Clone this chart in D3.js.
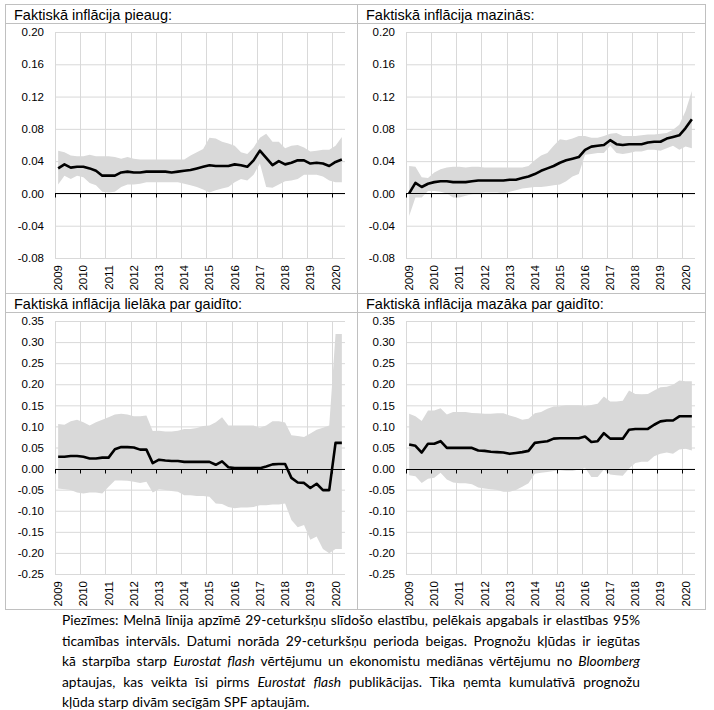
<!DOCTYPE html>
<html>
<head>
<meta charset="utf-8">
<script src="https://cdnjs.cloudflare.com/ajax/libs/d3/7.8.5/d3.min.js"></script>
<style>
  body { margin: 0; background: #fff; }
  #wrap { position: relative; width: 714px; height: 710px; }
  svg { position: absolute; left: 0; top: 0; }
  #notes {
    position: absolute; left: 62px; top: 610px; width: 578px;
    font-family: Lato, "Open Sans", sans-serif; font-size: 13.8px;
    line-height: 20.5px; color: #000;
  }
  #notes span { display: block; text-align: justify; text-align-last: justify; white-space: nowrap; }
  #notes span.last { text-align-last: left; }
</style>
</head>
<body>
<div id="wrap">
<svg id="chart" width="714" height="610"></svg>
<div id="notes">
  <span>Piezīmes: Melnā līnija apzīmē 29-ceturkšņu slīdošo elastību, pelēkais apgabals ir elastības 95%</span>
  <span>ticamības intervāls. Datumi norāda 29-ceturkšņu perioda beigas. Prognožu kļūdas ir iegūtas</span>
  <span>kā starpība starp <i>Eurostat flash</i> vērtējumu un ekonomistu mediānas vērtējumu no <i>Bloomberg</i></span>
  <span>aptaujas, kas veikta īsi pirms <i>Eurostat flash</i> publikācijas. Tika ņemta kumulatīvā prognožu</span>
  <span class="last">kļūda starp divām secīgām SPF aptaujām.</span>
</div>
</div>
<script>
// tick labels
var years = ["2009","2010","2011","2012","2013","2014","2015","2016","2017","2018","2019","2020"];
// quarters 2009Q1 .. 2020Q2
var quarters = [];
years.forEach(function(y){ ["Q1","Q2","Q3","Q4"].forEach(function(q){ quarters.push(y + q); }); });
quarters = quarters.slice(0, 46);

var titles = ["Faktiskā inflācija pieaug:", "Faktiskā inflācija mazinās:",
              "Faktiskā inflācija lielāka par gaidīto:", "Faktiskā inflācija mazāka par gaidīto:"];

var ticksTop = [0.20, 0.16, 0.12, 0.08, 0.04, 0.00, -0.04, -0.08];
var ticksBottom = [0.35, 0.30, 0.25, 0.20, 0.15, 0.10, 0.05, 0.00, -0.05, -0.10, -0.15, -0.20, -0.25];

// panel 1: pieaug
var riseLine = [0.031,0.036,0.032,0.033,0.033,0.031,0.028,0.022,0.022,0.022,0.026,0.027,
  0.026,0.026,0.027,0.027,0.027,0.027,0.026,0.027,0.028,0.029,0.031,0.033,
  0.035,0.034,0.034,0.034,0.036,0.035,0.033,0.041,0.053,0.044,0.035,0.040,
  0.036,0.038,0.041,0.041,0.037,0.038,0.037,0.034,0.039,0.042];
var riseHigh = [0.053,0.051,0.047,0.046,0.046,0.048,0.046,0.046,0.046,0.045,0.043,0.045,
  0.043,0.042,0.042,0.042,0.042,0.042,0.042,0.042,0.042,0.047,0.051,0.055,
  0.069,0.068,0.064,0.062,0.059,0.051,0.049,0.057,0.069,0.074,0.064,0.064,
  0.056,0.059,0.060,0.057,0.052,0.053,0.054,0.054,0.059,0.070];
var riseLow = [0.011,0.022,0.018,0.022,0.020,0.013,0.010,0.002,0.001,0.002,0.008,0.011,
  0.011,0.012,0.014,0.014,0.014,0.014,0.014,0.014,0.012,0.010,0.008,0.005,
  0.001,0.004,0.006,0.008,0.014,0.018,0.016,0.023,0.037,0.008,0.007,0.011,
  0.015,0.016,0.018,0.023,0.023,0.023,0.021,0.016,0.014,0.014];

// panel 2: mazinās
var fallLine = [0.000,0.013,0.008,0.012,0.014,0.015,0.015,0.014,0.014,0.014,0.015,0.016,
  0.016,0.016,0.016,0.016,0.017,0.017,0.019,0.021,0.024,0.028,0.031,0.034,
  0.038,0.041,0.043,0.045,0.054,0.058,0.059,0.060,0.066,0.061,0.060,0.061,
  0.061,0.061,0.063,0.064,0.064,0.068,0.070,0.072,0.081,0.092];
var fallHigh = [0.034,0.033,0.020,0.019,0.026,0.030,0.032,0.033,0.033,0.032,0.033,0.033,
  0.032,0.032,0.032,0.032,0.032,0.032,0.032,0.034,0.041,0.047,0.050,0.059,
  0.067,0.066,0.068,0.071,0.071,0.069,0.069,0.071,0.074,0.075,0.071,0.071,
  0.071,0.072,0.073,0.073,0.074,0.075,0.079,0.085,0.102,0.127];
var fallLow = [-0.028,-0.005,-0.005,0.003,0.003,0.002,0.000,-0.005,-0.005,-0.003,-0.001,0.000,
  0.001,0.001,0.001,0.000,0.002,0.004,0.006,0.007,0.008,0.008,0.009,0.010,
  0.011,0.015,0.021,0.024,0.048,0.049,0.050,0.050,0.059,0.050,0.049,0.050,
  0.052,0.052,0.054,0.054,0.053,0.056,0.059,0.054,0.058,0.056];

// panel 3: lielāka par gaidīto
var aboveLine = [0.028,0.028,0.030,0.030,0.028,0.024,0.024,0.026,0.026,0.046,0.051,0.051,
  0.050,0.045,0.045,0.013,0.021,0.019,0.018,0.018,0.016,0.016,0.016,0.016,
  0.016,0.009,0.017,0.003,0.001,0.001,0.001,0.001,0.001,0.005,0.010,0.011,
  0.011,-0.022,-0.033,-0.034,-0.046,-0.036,-0.051,-0.051,0.061,0.061];
var aboveHigh = [0.106,0.104,0.112,0.116,0.110,0.102,0.110,0.116,0.122,0.128,0.130,0.128,
  0.124,0.124,0.126,0.089,0.090,0.088,0.088,0.090,0.094,0.094,0.096,0.101,
  0.102,0.110,0.122,0.102,0.102,0.102,0.102,0.102,0.097,0.102,0.112,0.112,
  0.109,0.079,0.077,0.075,0.083,0.092,0.097,0.102,0.319,0.319];
var aboveLow = [-0.047,-0.049,-0.051,-0.057,-0.059,-0.057,-0.057,-0.059,-0.043,-0.028,-0.028,-0.029,
  -0.031,-0.034,-0.031,-0.057,-0.049,-0.051,-0.053,-0.055,-0.063,-0.063,-0.065,-0.065,
  -0.067,-0.083,-0.084,-0.091,-0.094,-0.092,-0.092,-0.091,-0.087,-0.087,-0.085,-0.085,
  -0.083,-0.122,-0.139,-0.134,-0.169,-0.161,-0.191,-0.201,-0.191,-0.191];

// panel 4: mazāka par gaidīto
var belowLine = [0.057,0.054,0.038,0.059,0.059,0.065,0.049,0.049,0.049,0.049,0.049,0.043,
  0.042,0.040,0.039,0.038,0.035,0.037,0.039,0.042,0.061,0.063,0.065,0.071,
  0.072,0.072,0.072,0.072,0.076,0.063,0.065,0.084,0.071,0.071,0.071,0.092,
  0.094,0.094,0.094,0.104,0.112,0.114,0.114,0.124,0.124,0.124];
var belowHigh = [0.130,0.124,0.113,0.138,0.138,0.143,0.128,0.134,0.134,0.134,0.132,0.131,
  0.130,0.130,0.131,0.131,0.126,0.122,0.116,0.118,0.131,0.134,0.142,0.147,
  0.148,0.150,0.150,0.150,0.148,0.151,0.154,0.171,0.159,0.159,0.161,0.185,
  0.177,0.176,0.177,0.185,0.193,0.194,0.199,0.209,0.207,0.207];
var belowLow = [-0.016,-0.018,-0.034,-0.024,-0.022,-0.010,-0.026,-0.033,-0.035,-0.035,-0.037,-0.045,
  -0.047,-0.049,-0.051,-0.055,-0.055,-0.051,-0.043,-0.035,-0.012,-0.010,-0.008,-0.006,
  -0.004,-0.006,-0.006,-0.002,0.002,-0.020,-0.020,-0.002,-0.014,-0.016,-0.017,0.000,
  0.013,0.016,0.016,0.029,0.035,0.038,0.035,0.045,0.047,0.043];

var panels = [
  { title: titles[0], col: 0, row: 0, ticks: ticksTop, line: riseLine, hi: riseHigh, lo: riseLow },
  { title: titles[1], col: 1, row: 0, ticks: ticksTop, line: fallLine, hi: fallHigh, lo: fallLow },
  { title: titles[2], col: 0, row: 1, ticks: ticksBottom, line: aboveLine, hi: aboveHigh, lo: aboveLow },
  { title: titles[3], col: 1, row: 1, ticks: ticksBottom, line: belowLine, hi: belowHigh, lo: belowLow }
];

var colX = [[5, 357], [357, 705]];
var rowY = [[4, 293], [293, 609]];
var plotX = [[55, 345], [406, 695]];
var plotY = [[32, 258], [321, 574]];

var svg = d3.select("#chart");
var font = "Liberation Sans, Arial, sans-serif";
var frame = "#c0c0c0";
var fmt = d3.format(".2f");

panels.forEach(function(p){
  var cx = colX[p.col], ry = rowY[p.row];
  var g = svg.append("g");

  // frame and title bar
  g.append("rect").attr("x", cx[0] + 0.5).attr("y", ry[0] + 0.5)
    .attr("width", cx[1] - cx[0]).attr("height", ry[1] - ry[0])
    .attr("fill", "none").attr("stroke", frame);
  g.append("line").attr("x1", cx[0]).attr("x2", cx[1])
    .attr("y1", ry[0] + 19.5).attr("y2", ry[0] + 19.5).attr("stroke", frame);
  g.append("text").attr("x", cx[0] + 9).attr("y", ry[0] + 15.5)
    .attr("font-family", font).attr("font-size", 14.5).text(p.title);

  var x = d3.scaleBand().domain(quarters).range(plotX[p.col]).paddingInner(0).paddingOuter(0);
  var y = d3.scaleLinear().domain([p.ticks[p.ticks.length - 1], p.ticks[0]]).range([plotY[p.row][1], plotY[p.row][0]]);
  var mid = function(i){ return x(quarters[i]) + x.bandwidth() / 2; };

  // horizontal grid
  g.append("g").attr("transform", "translate(" + plotX[p.col][0] + ",0)")
    .call(d3.axisLeft(y).tickValues(p.ticks).tickSize(-(plotX[p.col][1] - plotX[p.col][0]))
      .tickFormat(function(d){ return fmt(d).replace("\u2212", "-"); }).tickPadding(11))
    .call(function(a){
      a.select(".domain").remove();
      a.selectAll(".tick line").attr("stroke", "#d9d9d9");
      a.selectAll(".tick text").attr("font-family", font).attr("font-size", 11.5).attr("fill", "#000");
    });

  // vertical grid at year starts
  var yearQ = years.map(function(yy){ return yy + "Q1"; });
  g.append("g").selectAll("line").data(yearQ).join("line")
    .attr("x1", function(d){ return Math.round(x(d)) + 0.5; })
    .attr("x2", function(d){ return Math.round(x(d)) + 0.5; })
    .attr("y1", plotY[p.row][0]).attr("y2", plotY[p.row][1])
    .attr("stroke", "#d9d9d9");

  // band
  var area = d3.area()
    .x(function(d, i){ return mid(i); })
    .y0(function(d, i){ return y(p.lo[i]); })
    .y1(function(d, i){ return y(p.hi[i]); });
  g.append("path").datum(p.hi).attr("d", area).attr("fill", "#d9d9d9");

  // zero axis with ticks
  var y0 = Math.round(y(0)) + 0.5;
  g.append("line").attr("x1", plotX[p.col][0]).attr("x2", plotX[p.col][1])
    .attr("y1", y0).attr("y2", y0).attr("stroke", "#000");
  g.append("g").selectAll("line").data(yearQ).join("line")
    .attr("x1", function(d){ return Math.round(x(d)) + 0.5; })
    .attr("x2", function(d){ return Math.round(x(d)) + 0.5; })
    .attr("y1", y0).attr("y2", y0 + 4).attr("stroke", "#000");

  // line
  var line = d3.line()
    .x(function(d, i){ return mid(i); })
    .y(function(d){ return y(d); });
  g.append("path").datum(p.line).attr("d", line)
    .attr("fill", "none").attr("stroke", "#000").attr("stroke-width", 2.6).attr("stroke-linejoin", "round");

  // year labels, rotated
  g.append("g").selectAll("text").data(years).join("text")
    .attr("transform", function(d){ return "translate(" + mid(quarters.indexOf(d + "Q1")) + "," + (plotY[p.row][1] + 7) + ") rotate(-90)"; })
    .attr("text-anchor", "end").attr("dy", "0.35em")
    .attr("font-family", font).attr("font-size", 11.5).text(function(d){ return d; });
});
</script>
</body>
</html>
